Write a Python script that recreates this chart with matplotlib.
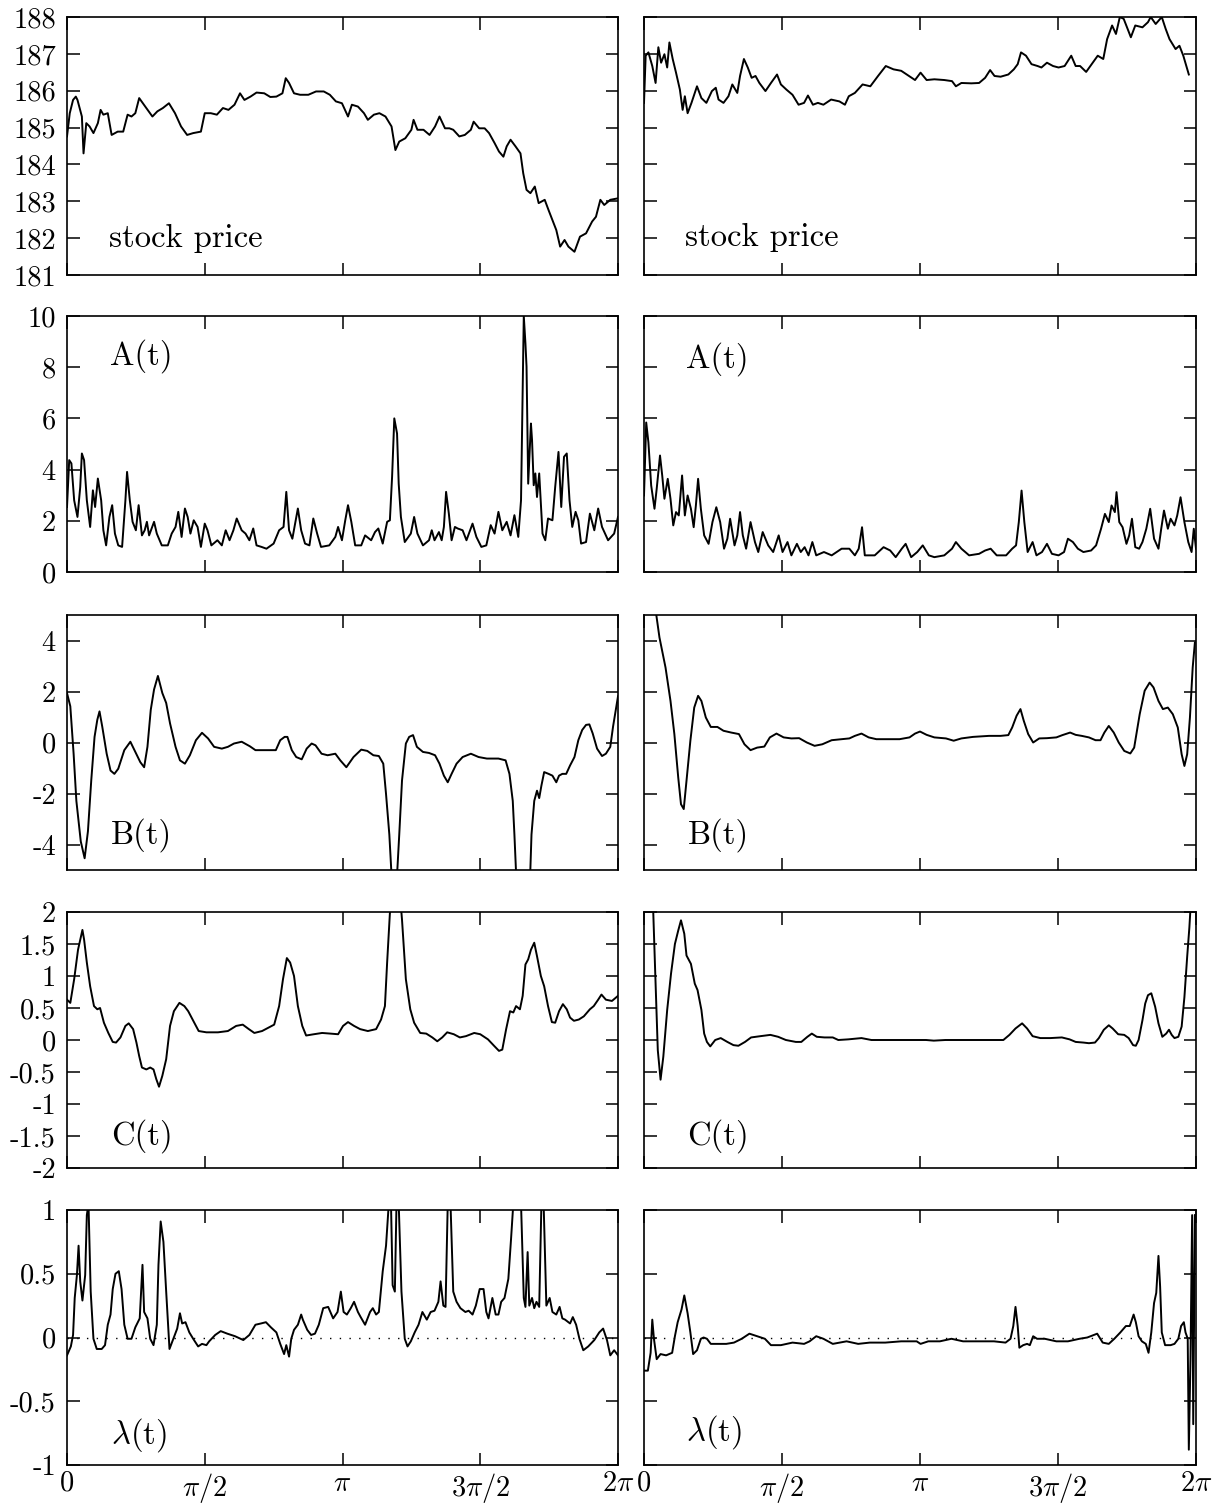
import numpy as np
import matplotlib
matplotlib.use("Agg")
import matplotlib.pyplot as plt

plt.rcParams['font.family'] = 'serif'
plt.rcParams['font.serif'] = ['cmr10']
plt.rcParams['mathtext.fontset'] = 'cm'
plt.rcParams['axes.unicode_minus'] = False
plt.rcParams['axes.formatter.use_mathtext'] = True

# time axis is given as fraction of the full period 2*pi

# ---- stock price, left
t_price_l = [0.000, 0.005, 0.011, 0.016, 0.019, 0.027, 0.030, 0.035, 0.041, 0.048, 0.056, 0.061, 0.066,
             0.074, 0.081, 0.092, 0.102, 0.110, 0.117, 0.124, 0.131, 0.142, 0.155, 0.164, 0.174, 0.185,
             0.196, 0.207, 0.218, 0.229, 0.243, 0.250, 0.261, 0.272, 0.283, 0.293, 0.304, 0.314, 0.322,
             0.333, 0.344, 0.358, 0.369, 0.380, 0.391, 0.397, 0.403, 0.412, 0.423, 0.438, 0.452, 0.466,
             0.477, 0.488, 0.499, 0.510, 0.517, 0.528, 0.539, 0.546, 0.557, 0.567, 0.578, 0.589, 0.596,
             0.603, 0.614, 0.625, 0.629, 0.636, 0.647, 0.658, 0.668, 0.676, 0.686, 0.694, 0.701, 0.712,
             0.722, 0.733, 0.738, 0.748, 0.758, 0.766, 0.776, 0.784, 0.792, 0.798, 0.805, 0.814, 0.823,
             0.828, 0.834, 0.841, 0.849, 0.856, 0.867, 0.874, 0.881, 0.888, 0.895, 0.903, 0.910, 0.921,
             0.931, 0.942, 0.953, 0.960, 0.968, 0.975, 0.986, 1.000]
price_l = [184.76, 185.39, 185.75, 185.84, 185.75, 185.30, 184.30, 185.12, 185.03, 184.85, 185.12, 185.48,
           185.35, 185.39, 184.80, 184.89, 184.89, 185.35, 185.30, 185.39, 185.80, 185.57, 185.30, 185.44,
           185.53, 185.66, 185.39, 185.03, 184.80, 184.85, 184.89, 185.39, 185.39, 185.35, 185.53, 185.48,
           185.62, 185.93, 185.75, 185.84, 185.95, 185.93, 185.83, 185.84, 185.93, 186.34, 186.21, 185.93,
           185.89, 185.89, 185.98, 185.98, 185.89, 185.71, 185.66, 185.30, 185.62, 185.57, 185.39, 185.21,
           185.35, 185.39, 185.30, 185.03, 184.39, 184.62, 184.71, 184.94, 185.21, 184.94, 184.94, 184.80,
           185.03, 185.30, 184.98, 184.98, 184.94, 184.76, 184.80, 184.94, 185.16, 184.98, 184.98, 184.85,
           184.58, 184.35, 184.21, 184.49, 184.67, 184.49, 184.30, 183.76, 183.31, 183.22, 183.40, 182.95,
           183.04, 182.76, 182.49, 182.22, 181.77, 181.95, 181.77, 181.63, 182.04, 182.13, 182.45, 182.58,
           183.04, 182.90, 183.04, 183.08]

# ---- stock price, right
t_price_r = [0.000, 0.003, 0.008, 0.015, 0.021, 0.026, 0.031, 0.037, 0.042, 0.046, 0.052, 0.058, 0.065,
             0.070, 0.074, 0.079, 0.086, 0.096, 0.104, 0.113, 0.123, 0.130, 0.135, 0.144, 0.153, 0.160,
             0.169, 0.174, 0.181, 0.188, 0.195, 0.202, 0.209, 0.220, 0.230, 0.241, 0.248, 0.258, 0.269,
             0.280, 0.290, 0.297, 0.306, 0.315, 0.325, 0.339, 0.354, 0.364, 0.371, 0.382, 0.396, 0.410,
             0.424, 0.438, 0.452, 0.466, 0.480, 0.491, 0.501, 0.512, 0.526, 0.544, 0.558, 0.565, 0.575,
             0.593, 0.607, 0.618, 0.627, 0.635, 0.646, 0.660, 0.670, 0.677, 0.683, 0.692, 0.702, 0.713,
             0.720, 0.730, 0.741, 0.751, 0.762, 0.774, 0.782, 0.790, 0.801, 0.811, 0.822, 0.832, 0.839,
             0.848, 0.855, 0.862, 0.869, 0.875, 0.882, 0.890, 0.903, 0.913, 0.918, 0.927, 0.938, 0.945,
             0.952, 0.963, 0.970, 0.977, 0.987]
price_r = [185.67, 186.95, 187.04, 186.67, 186.21, 187.18, 186.76, 186.99, 186.63, 187.31, 186.86, 186.49,
           186.03, 185.48, 185.85, 185.39, 185.67, 186.12, 185.80, 185.67, 185.99, 186.08, 185.76, 185.67,
           185.85, 186.17, 185.94, 186.40, 186.86, 186.63, 186.35, 186.40, 186.21, 185.99, 186.21, 186.44,
           186.17, 186.03, 185.89, 185.62, 185.67, 185.87, 185.62, 185.67, 185.62, 185.76, 185.71, 185.62,
           185.85, 185.94, 186.17, 186.12, 186.40, 186.67, 186.58, 186.54, 186.40, 186.29, 186.49, 186.29,
           186.31, 186.29, 186.26, 186.12, 186.21, 186.20, 186.21, 186.35, 186.56, 186.40, 186.38, 186.44,
           186.58, 186.72, 187.04, 186.95, 186.72, 186.67, 186.63, 186.76, 186.67, 186.63, 186.67, 186.95,
           186.67, 186.67, 186.51, 186.72, 186.95, 186.86, 187.40, 187.77, 187.54, 188.00, 187.95, 187.72,
           187.45, 187.77, 187.72, 187.86, 188.00, 187.81, 188.00, 187.68, 187.40, 187.13, 187.22, 186.95,
           186.44]

# ---- A(t), left
t_a_l = [0.000, 0.004, 0.008, 0.013, 0.019, 0.024, 0.027, 0.031, 0.036, 0.042, 0.047, 0.051, 0.056, 0.062,
         0.066, 0.071, 0.077, 0.082, 0.087, 0.093, 0.100, 0.106, 0.109, 0.114, 0.119, 0.125, 0.130, 0.136,
         0.141, 0.145, 0.149, 0.158, 0.163, 0.172, 0.183, 0.190, 0.197, 0.202, 0.208, 0.214, 0.219, 0.224,
         0.230, 0.237, 0.243, 0.250, 0.255, 0.262, 0.273, 0.281, 0.288, 0.295, 0.302, 0.308, 0.317, 0.324,
         0.331, 0.338, 0.344, 0.353, 0.362, 0.375, 0.385, 0.393, 0.398, 0.403, 0.409, 0.414, 0.419, 0.425,
         0.432, 0.440, 0.447, 0.454, 0.461, 0.476, 0.487, 0.492, 0.499, 0.505, 0.510, 0.516, 0.523, 0.534,
         0.541, 0.552, 0.559, 0.565, 0.573, 0.581, 0.586, 0.590, 0.594, 0.599, 0.602, 0.606, 0.613, 0.624,
         0.630, 0.636, 0.646, 0.657, 0.662, 0.667, 0.675, 0.680, 0.684, 0.688, 0.693, 0.698, 0.704, 0.709,
         0.718, 0.725, 0.736, 0.743, 0.752, 0.761, 0.769, 0.776, 0.783, 0.790, 0.798, 0.805, 0.812, 0.819,
         0.824, 0.829, 0.832, 0.834, 0.837, 0.842, 0.844, 0.847, 0.850, 0.853, 0.857, 0.863, 0.868, 0.873,
         0.881, 0.886, 0.892, 0.897, 0.902, 0.907, 0.912, 0.917, 0.923, 0.928, 0.933, 0.942, 0.949, 0.957,
         0.964, 0.971, 0.982, 0.993, 1.000]
a_l = [2.54, 4.37, 4.24, 2.80, 2.15, 3.32, 4.63, 4.37, 2.80, 1.76, 3.19, 2.54, 3.65, 2.80, 1.63, 1.04,
       2.15, 2.61, 1.50, 1.04, 0.98, 2.80, 3.91, 2.80, 1.96, 1.63, 2.61, 1.43, 1.63, 1.96, 1.43, 1.96,
       1.50, 1.04, 1.04, 1.50, 1.76, 2.35, 1.37, 2.48, 2.15, 1.50, 2.02, 1.76, 0.98, 1.89, 1.63, 1.04,
       1.24, 1.04, 1.63, 1.24, 1.63, 2.09, 1.63, 1.50, 1.24, 1.70, 1.04, 0.98, 0.91, 1.11, 1.63, 1.76,
       3.13, 1.63, 1.30, 1.89, 2.48, 1.63, 1.11, 1.04, 2.09, 1.50, 0.98, 1.04, 1.37, 1.76, 1.24, 2.02,
       2.61, 1.96, 1.04, 1.04, 1.43, 1.24, 1.56, 1.70, 1.11, 1.96, 2.02, 3.72, 6.00, 5.41, 3.45, 2.15,
       1.17, 1.50, 2.15, 1.50, 1.04, 1.24, 1.63, 1.24, 1.56, 1.24, 1.76, 3.13, 2.28, 1.24, 1.76, 1.70,
       1.63, 1.24, 1.89, 1.37, 0.98, 1.04, 1.83, 1.50, 2.35, 1.63, 1.96, 1.43, 2.22, 1.37, 2.80, 10.0,
       8.93, 8.02, 3.45, 5.80, 5.15, 3.39, 3.85, 2.93, 3.85, 1.50, 1.24, 2.09, 2.02, 3.32, 4.69, 2.54,
       4.50, 4.63, 2.80, 1.76, 2.35, 2.02, 1.11, 1.17, 2.28, 1.63, 2.48, 1.76, 1.24, 1.50, 2.15]

# ---- A(t), right
t_a_r = [0.000, 0.004, 0.008, 0.013, 0.019, 0.023, 0.029, 0.033, 0.037, 0.043, 0.048, 0.053, 0.058, 0.063,
         0.069, 0.074, 0.079, 0.085, 0.090, 0.094, 0.098, 0.103, 0.109, 0.117, 0.124, 0.131, 0.138, 0.145,
         0.151, 0.156, 0.164, 0.169, 0.174, 0.179, 0.185, 0.193, 0.201, 0.207, 0.215, 0.225, 0.234, 0.244,
         0.251, 0.260, 0.267, 0.277, 0.284, 0.291, 0.298, 0.305, 0.312, 0.326, 0.340, 0.358, 0.372, 0.382,
         0.389, 0.395, 0.400, 0.418, 0.434, 0.446, 0.456, 0.467, 0.474, 0.484, 0.495, 0.505, 0.516, 0.526,
         0.544, 0.558, 0.565, 0.575, 0.589, 0.607, 0.618, 0.628, 0.639, 0.656, 0.667, 0.674, 0.679, 0.684,
         0.689, 0.695, 0.704, 0.711, 0.721, 0.730, 0.739, 0.751, 0.761, 0.768, 0.777, 0.786, 0.796, 0.810,
         0.819, 0.828, 0.835, 0.842, 0.847, 0.853, 0.856, 0.861, 0.867, 0.874, 0.879, 0.884, 0.890, 0.897,
         0.903, 0.910, 0.917, 0.924, 0.932, 0.937, 0.942, 0.949, 0.954, 0.961, 0.966, 0.972, 0.979, 0.986,
         0.992, 0.996, 1.000]
a_r = [2.99, 5.84, 5.06, 3.38, 2.47, 3.25, 4.55, 3.77, 2.86, 3.64, 2.86, 1.82, 2.34, 2.21, 3.77, 2.21,
       2.99, 2.47, 1.75, 2.60, 3.64, 2.47, 1.43, 1.10, 1.95, 2.53, 1.95, 0.91, 1.30, 2.08, 1.04, 1.43,
       2.34, 1.43, 0.91, 1.95, 1.17, 0.78, 1.56, 1.04, 0.78, 1.43, 0.78, 1.17, 0.65, 1.10, 0.78, 0.97,
       0.65, 1.17, 0.65, 0.78, 0.65, 0.91, 0.91, 0.65, 0.91, 1.75, 0.65, 0.65, 0.97, 0.84, 0.58, 0.91,
       1.10, 0.58, 0.78, 1.04, 0.65, 0.58, 0.65, 0.91, 1.17, 0.91, 0.65, 0.71, 0.84, 0.91, 0.65, 0.65,
       0.91, 1.04, 1.95, 3.18, 1.95, 0.78, 1.17, 0.65, 0.78, 1.10, 0.71, 0.65, 0.78, 1.30, 1.17, 0.91,
       0.78, 0.84, 1.04, 1.69, 2.27, 1.95, 2.60, 2.34, 3.12, 1.95, 1.75, 1.10, 1.43, 2.08, 0.97, 0.91,
       1.17, 1.69, 2.47, 1.30, 0.91, 1.69, 2.40, 1.69, 2.08, 1.82, 2.21, 2.92, 1.95, 1.17, 0.78, 1.69,
       0.91]

# ---- B(t), left
t_b_l = [0.000, 0.006, 0.012, 0.017, 0.025, 0.032, 0.038, 0.044, 0.050, 0.055, 0.059, 0.064, 0.072, 0.079,
         0.086, 0.093, 0.104, 0.115, 0.124, 0.133, 0.140, 0.146, 0.152, 0.158, 0.165, 0.173, 0.180, 0.187,
         0.197, 0.205, 0.214, 0.223, 0.234, 0.245, 0.256, 0.267, 0.281, 0.292, 0.303, 0.317, 0.332, 0.342,
         0.357, 0.379, 0.387, 0.395, 0.400, 0.408, 0.416, 0.426, 0.435, 0.444, 0.451, 0.462, 0.473, 0.487,
         0.496, 0.507, 0.520, 0.534, 0.545, 0.556, 0.566, 0.574, 0.579, 0.585, 0.590, 0.598, 0.603, 0.608,
         0.615, 0.621, 0.628, 0.635, 0.646, 0.657, 0.668, 0.676, 0.684, 0.691, 0.698, 0.707, 0.718, 0.733,
         0.747, 0.762, 0.783, 0.796, 0.803, 0.809, 0.812, 0.816, 0.840, 0.843, 0.848, 0.853, 0.857, 0.861,
         0.866, 0.874, 0.881, 0.888, 0.893, 0.899, 0.906, 0.913, 0.921, 0.928, 0.935, 0.942, 0.948, 0.954,
         0.962, 0.971, 0.978, 0.986, 0.991, 1.000]
b_l = [1.94, 1.42, -0.44, -2.29, -3.88, -4.54, -3.48, -1.49, 0.22, 0.89, 1.22, 0.62, -0.44, -1.10, -1.23,
       -1.03, -0.30, 0.03, -0.37, -0.77, -0.97, -0.17, 1.28, 2.08, 2.61, 1.94, 1.55, 0.75, -0.17, -0.70,
       -0.83, -0.50, 0.09, 0.38, 0.16, -0.17, -0.24, -0.17, -0.04, 0.03, -0.15, -0.30, -0.30, -0.30, 0.09,
       0.22, 0.22, -0.30, -0.57, -0.66, -0.24, -0.04, -0.11, -0.44, -0.50, -0.44, -0.70, -0.97, -0.57,
       -0.28, -0.33, -0.50, -0.53, -0.83, -2.02, -3.61, -5.60, -5.60, -3.61, -1.49, -0.04, 0.22, 0.29,
       -0.17, -0.37, -0.41, -0.50, -0.83, -1.30, -1.56, -1.23, -0.83, -0.57, -0.44, -0.57, -0.63, -0.63,
       -0.70, -1.23, -2.29, -3.61, -5.60, -5.60, -3.61, -2.29, -1.89, -2.18, -1.69, -1.16, -1.23, -1.30,
       -1.56, -1.30, -1.23, -1.23, -0.90, -0.57, 0.09, 0.49, 0.69, 0.71, 0.36, -0.24, -0.53, -0.44, -0.17,
       0.62, 1.81]

# ---- B(t), right
t_b_r = [0.000, 0.021, 0.028, 0.039, 0.048, 0.055, 0.062, 0.067, 0.072, 0.077, 0.084, 0.091, 0.098, 0.104,
         0.112, 0.121, 0.133, 0.144, 0.158, 0.172, 0.182, 0.193, 0.205, 0.218, 0.228, 0.240, 0.253, 0.267,
         0.281, 0.295, 0.309, 0.323, 0.340, 0.358, 0.372, 0.382, 0.394, 0.407, 0.421, 0.442, 0.463, 0.481,
         0.491, 0.500, 0.512, 0.526, 0.547, 0.561, 0.575, 0.596, 0.625, 0.646, 0.660, 0.667, 0.675, 0.682,
         0.688, 0.696, 0.705, 0.716, 0.730, 0.747, 0.758, 0.772, 0.782, 0.793, 0.806, 0.818, 0.827, 0.834,
         0.842, 0.851, 0.860, 0.870, 0.881, 0.888, 0.898, 0.907, 0.916, 0.923, 0.932, 0.940, 0.949, 0.958,
         0.967, 0.974, 0.979, 0.984, 0.989, 0.994, 0.998]
b_r = [7.00, 5.20, 4.12, 2.94, 1.63, 0.33, -1.37, -2.42, -2.61, -1.50, 0.07, 1.37, 1.83, 1.63, 0.98, 0.61,
       0.61, 0.46, 0.39, 0.33, -0.07, -0.30, -0.20, -0.16, 0.20, 0.35, 0.20, 0.16, 0.17, 0.00, -0.13, -0.07,
       0.09, 0.13, 0.16, 0.26, 0.35, 0.20, 0.13, 0.13, 0.13, 0.20, 0.35, 0.43, 0.30, 0.20, 0.16, 0.07, 0.16,
       0.22, 0.26, 0.26, 0.29, 0.59, 1.05, 1.31, 0.85, 0.33, 0.00, 0.16, 0.17, 0.20, 0.29, 0.39, 0.30, 0.26,
       0.20, 0.09, 0.09, 0.39, 0.65, 0.39, 0.00, -0.33, -0.43, -0.20, 1.11, 2.03, 2.35, 2.16, 1.63, 1.31,
       1.37, 1.11, 0.59, -0.46, -0.92, -0.46, 0.98, 2.94, 3.92]

# ---- C(t), left
t_c_l = [0.000, 0.006, 0.013, 0.020, 0.028, 0.031, 0.036, 0.042, 0.049, 0.055, 0.060, 0.067, 0.075, 0.083,
         0.089, 0.097, 0.106, 0.112, 0.120, 0.126, 0.131, 0.136, 0.144, 0.151, 0.157, 0.162, 0.167, 0.173,
         0.180, 0.187, 0.194, 0.204, 0.213, 0.220, 0.231, 0.239, 0.253, 0.274, 0.292, 0.307, 0.319, 0.330,
         0.340, 0.354, 0.365, 0.376, 0.385, 0.392, 0.399, 0.405, 0.412, 0.419, 0.427, 0.434, 0.448, 0.463,
         0.478, 0.492, 0.501, 0.510, 0.521, 0.532, 0.546, 0.561, 0.570, 0.577, 0.581, 0.586, 0.590, 0.604,
         0.608, 0.615, 0.623, 0.630, 0.641, 0.652, 0.663, 0.672, 0.681, 0.690, 0.702, 0.713, 0.724, 0.739,
         0.750, 0.764, 0.775, 0.784, 0.790, 0.797, 0.804, 0.810, 0.815, 0.822, 0.827, 0.832, 0.837, 0.842,
         0.848, 0.853, 0.860, 0.866, 0.873, 0.880, 0.886, 0.893, 0.900, 0.907, 0.913, 0.920, 0.929, 0.938,
         0.949, 0.956, 0.964, 0.970, 0.978, 0.989, 1.000]
c_l = [0.63, 0.58, 0.95, 1.41, 1.72, 1.57, 1.21, 0.84, 0.53, 0.48, 0.50, 0.27, 0.11, -0.03, -0.04, 0.04,
       0.22, 0.26, 0.17, -0.04, -0.25, -0.43, -0.46, -0.43, -0.46, -0.61, -0.73, -0.56, -0.30, 0.22, 0.45,
       0.58, 0.53, 0.45, 0.27, 0.14, 0.12, 0.12, 0.14, 0.22, 0.24, 0.17, 0.11, 0.14, 0.19, 0.24, 0.53, 0.95,
       1.28, 1.21, 1.00, 0.53, 0.22, 0.07, 0.09, 0.11, 0.10, 0.09, 0.22, 0.28, 0.22, 0.17, 0.14, 0.17, 0.32,
       0.53, 1.21, 1.98, 2.30, 2.30, 1.88, 0.95, 0.48, 0.27, 0.11, 0.10, 0.04, -0.02, 0.04, 0.12, 0.09, 0.04,
       0.06, 0.11, 0.09, 0.01, -0.09, -0.17, -0.15, 0.17, 0.45, 0.43, 0.53, 0.48, 0.69, 1.18, 1.26, 1.41,
       1.52, 1.31, 1.00, 0.84, 0.53, 0.28, 0.27, 0.45, 0.56, 0.48, 0.35, 0.30, 0.32, 0.37, 0.48, 0.53, 0.63,
       0.71, 0.63, 0.61, 0.69]

# ---- C(t), right
t_c_r = [0.016, 0.020, 0.025, 0.030, 0.035, 0.042, 0.049, 0.056, 0.062, 0.067, 0.073, 0.077, 0.085, 0.092,
         0.097, 0.104, 0.109, 0.114, 0.120, 0.129, 0.139, 0.151, 0.162, 0.171, 0.183, 0.194, 0.211, 0.229,
         0.243, 0.257, 0.275, 0.285, 0.296, 0.304, 0.313, 0.327, 0.342, 0.352, 0.370, 0.394, 0.412, 0.440,
         0.475, 0.511, 0.525, 0.546, 0.581, 0.616, 0.651, 0.662, 0.673, 0.685, 0.694, 0.704, 0.718, 0.736,
         0.757, 0.771, 0.782, 0.796, 0.806, 0.817, 0.824, 0.833, 0.842, 0.849, 0.859, 0.870, 0.878, 0.886,
         0.891, 0.896, 0.903, 0.908, 0.913, 0.919, 0.926, 0.932, 0.939, 0.946, 0.951, 0.956, 0.961, 0.968,
         0.974, 0.979, 0.984, 0.988, 0.991]
c_r = [2.20, 1.14, -0.16, -0.62, -0.26, 0.47, 1.04, 1.50, 1.71, 1.87, 1.66, 1.32, 1.19, 0.88, 0.78, 0.47,
       0.10, -0.03, -0.10, 0.00, 0.03, -0.03, -0.08, -0.09, -0.03, 0.04, 0.06, 0.08, 0.05, 0.00, -0.03, -0.03,
       0.05, 0.10, 0.05, 0.04, 0.04, 0.00, 0.01, 0.03, 0.00, 0.00, 0.00, 0.00, -0.01, 0.00, 0.00, 0.00, 0.00,
       0.08, 0.18, 0.26, 0.18, 0.06, 0.03, 0.03, 0.04, 0.01, -0.03, -0.04, -0.05, -0.04, 0.03, 0.16, 0.23,
       0.18, 0.09, 0.08, 0.03, -0.08, -0.09, 0.00, 0.31, 0.57, 0.70, 0.73, 0.52, 0.26, 0.05, 0.10, 0.16, 0.08,
       0.03, 0.05, 0.21, 0.67, 1.30, 1.76, 2.20]

# ---- lambda(t), left
t_lam_l = [0.000, 0.007, 0.011, 0.014, 0.018, 0.021, 0.024, 0.028, 0.033, 0.036, 0.039, 0.043, 0.048, 0.054,
           0.063, 0.069, 0.074, 0.079, 0.083, 0.088, 0.094, 0.099, 0.104, 0.110, 0.117, 0.124, 0.132, 0.137,
           0.140, 0.146, 0.151, 0.157, 0.163, 0.166, 0.170, 0.175, 0.180, 0.186, 0.193, 0.200, 0.205, 0.209,
           0.215, 0.222, 0.229, 0.238, 0.245, 0.253, 0.258, 0.269, 0.279, 0.291, 0.305, 0.320, 0.331, 0.342,
           0.352, 0.361, 0.370, 0.380, 0.387, 0.394, 0.398, 0.403, 0.407, 0.412, 0.419, 0.425, 0.428, 0.436,
           0.443, 0.450, 0.457, 0.465, 0.474, 0.483, 0.491, 0.497, 0.502, 0.508, 0.515, 0.521, 0.528, 0.533,
           0.541, 0.550, 0.555, 0.561, 0.566, 0.573, 0.579, 0.584, 0.588, 0.591, 0.595, 0.598, 0.602, 0.607,
           0.613, 0.618, 0.624, 0.631, 0.638, 0.645, 0.653, 0.660, 0.667, 0.674, 0.678, 0.683, 0.687, 0.691,
           0.696, 0.701, 0.707, 0.714, 0.723, 0.729, 0.736, 0.742, 0.749, 0.756, 0.761, 0.765, 0.772, 0.778,
           0.783, 0.788, 0.794, 0.801, 0.806, 0.810, 0.815, 0.824, 0.829, 0.832, 0.836, 0.839, 0.844, 0.848,
           0.852, 0.857, 0.861, 0.865, 0.870, 0.876, 0.881, 0.888, 0.894, 0.899, 0.904, 0.913, 0.918, 0.924,
           0.930, 0.937, 0.946, 0.957, 0.966, 0.973, 0.980, 0.986, 0.993, 1.000]
lam_l = [-0.14, -0.07, 0.02, 0.31, 0.49, 0.72, 0.44, 0.29, 0.49, 0.96, 1.05, 0.36, -0.01, -0.09, -0.09,
         -0.06, 0.10, 0.18, 0.38, 0.50, 0.52, 0.38, 0.10, -0.01, -0.01, 0.08, 0.15, 0.57, 0.20, 0.15, -0.01,
         -0.06, 0.10, 0.57, 0.91, 0.75, 0.36, -0.09, -0.01, 0.07, 0.19, 0.11, 0.12, 0.04, -0.01, -0.07, -0.05,
         -0.06, -0.03, 0.02, 0.05, 0.03, 0.01, -0.02, 0.02, 0.10, 0.11, 0.12, 0.08, 0.04, -0.05, -0.13, -0.06,
         -0.15, -0.01, 0.06, 0.10, 0.18, 0.14, 0.06, 0.02, 0.03, 0.10, 0.23, 0.24, 0.15, 0.20, 0.36, 0.20,
         0.18, 0.23, 0.28, 0.20, 0.16, 0.10, 0.20, 0.23, 0.18, 0.20, 0.52, 0.72, 1.05, 1.05, 0.41, 0.36, 1.05,
         1.05, 0.36, -0.01, -0.07, -0.03, 0.04, 0.10, 0.20, 0.14, 0.20, 0.21, 0.28, 0.44, 0.25, 0.24, 1.05,
         1.05, 0.36, 0.28, 0.23, 0.20, 0.21, 0.18, 0.25, 0.38, 0.38, 0.20, 0.15, 0.31, 0.18, 0.18, 0.28, 0.31,
         0.46, 0.78, 1.05, 1.05, 1.05, 0.31, 0.24, 0.67, 0.25, 0.31, 0.23, 0.28, 0.24, 1.05, 1.05, 0.25, 0.31,
         0.20, 0.18, 0.24, 0.15, 0.14, 0.11, 0.16, 0.10, -0.01, -0.10, -0.07, -0.02, 0.04, 0.07, -0.02, -0.14,
         -0.10, -0.14]

# ---- lambda(t), right
t_lam_r = [0.000, 0.007, 0.012, 0.015, 0.018, 0.023, 0.030, 0.040, 0.051, 0.056, 0.061, 0.068, 0.073, 0.079,
           0.084, 0.089, 0.096, 0.103, 0.108, 0.114, 0.121, 0.135, 0.149, 0.163, 0.177, 0.191, 0.205, 0.219,
           0.230, 0.248, 0.269, 0.290, 0.300, 0.312, 0.325, 0.342, 0.367, 0.388, 0.409, 0.437, 0.466, 0.494,
           0.501, 0.515, 0.536, 0.557, 0.578, 0.606, 0.634, 0.655, 0.664, 0.669, 0.673, 0.677, 0.680, 0.687,
           0.694, 0.699, 0.705, 0.712, 0.726, 0.747, 0.768, 0.789, 0.803, 0.821, 0.831, 0.842, 0.852, 0.863,
           0.873, 0.880, 0.887, 0.891, 0.896, 0.902, 0.909, 0.914, 0.919, 0.924, 0.928, 0.932, 0.935, 0.938,
           0.944, 0.954, 0.961, 0.968, 0.973, 0.978, 0.981, 0.985, 0.987, 0.990, 0.993, 0.995, 0.998]
lam_r = [-0.26, -0.26, -0.12, 0.14, -0.01, -0.17, -0.13, -0.14, -0.12, 0.01, 0.12, 0.22, 0.33, 0.19, 0.04,
         -0.13, -0.10, -0.01, 0.00, -0.01, -0.05, -0.05, -0.05, -0.04, -0.01, 0.03, 0.01, -0.01, -0.06, -0.06,
         -0.04, -0.05, -0.03, 0.01, -0.01, -0.05, -0.03, -0.05, -0.04, -0.04, -0.03, -0.03, -0.05, -0.03,
         -0.03, -0.01, -0.03, -0.03, -0.03, -0.04, -0.01, 0.09, 0.24, 0.09, -0.08, -0.06, -0.05, -0.06, 0.01,
         -0.01, -0.01, -0.03, -0.03, -0.01, 0.00, 0.03, -0.04, -0.05, -0.01, 0.04, 0.09, 0.09, 0.18, 0.12,
         0.01, -0.03, -0.05, -0.12, 0.04, 0.27, 0.35, 0.64, 0.40, 0.04, -0.06, -0.06, -0.05, -0.01, 0.09, 0.12,
         0.04, -0.01, -0.88, -0.17, 0.96, -0.68, 0.96]

x_ticks = [0, np.pi / 2, np.pi, 3 * np.pi / 2, 2 * np.pi]
x_labels = ['0', r'$\pi/2$', r'$\pi$', r'$3\pi/2$', r'$2\pi$']

rows = [
    dict(left=(t_price_l, price_l), right=(t_price_r, price_r), ylim=(181, 188),
         yticks=[181, 182, 183, 184, 185, 186, 187, 188], label='stock price',
         pos_l=(0.076, 0.109), pos_r=(0.075, 0.111)),
    dict(left=(t_a_l, a_l), right=(t_a_r, a_r), ylim=(0, 10),
         yticks=[0, 2, 4, 6, 8, 10], label='A(t)',
         pos_l=(0.078, 0.812), pos_r=(0.076, 0.80)),
    dict(left=(t_b_l, b_l), right=(t_b_r, b_r), ylim=(-5, 5),
         yticks=[-4, -2, 0, 2, 4], label='B(t)',
         pos_l=(0.080, 0.105), pos_r=(0.080, 0.102)),
    dict(left=(t_c_l, c_l), right=(t_c_r, c_r), ylim=(-2, 2),
         yticks=[-2, -1.5, -1, -0.5, 0, 0.5, 1, 1.5, 2], label='C(t)',
         pos_l=(0.080, 0.090), pos_r=(0.078, 0.090)),
    dict(left=(t_lam_l, lam_l), right=(t_lam_r, lam_r), ylim=(-1, 1),
         yticks=[-1, -0.5, 0, 0.5, 1], label=r'$\lambda(\mathrm{t})$',
         pos_l=(0.080, 0.085), pos_r=(0.076, 0.095)),
]

W, H = 1224, 1507
fig = plt.figure(figsize=(W / 100, H / 100), dpi=100)
row_px = [(17, 275), (316, 572), (615, 870), (912, 1168), (1210, 1465)]
col_px = [(67, 618), (644, 1196)]

for i, row in enumerate(rows):
    top, bot = row_px[i]
    for j, side in enumerate(['left', 'right']):
        x0, x1 = col_px[j]
        ax = fig.add_axes([x0 / W, 1 - bot / H, (x1 - x0) / W, (bot - top) / H])
        tf, vals = row[side]
        t = 2 * np.pi * np.array(tf)
        ax.plot(t, vals, color='black', lw=1.4)
        if i == 4:
            ax.axhline(0, color='black', lw=1.0, linestyle=(0, (1, 6)))
        ax.set_xlim(0, 2 * np.pi)
        ax.set_ylim(*row['ylim'])
        ax.set_xticks(x_ticks)
        if i == 4:
            ax.set_xticklabels(x_labels)
        else:
            ax.set_xticklabels([])
        ax.set_yticks(row['yticks'])
        if j == 0:
            ax.set_yticklabels(['%g' % v for v in row['yticks']])
        else:
            ax.set_yticklabels([])
        ax.tick_params(direction='in', top=True, right=True, length=9, width=1.1,
                       labelsize=20.5)
        ax.tick_params(axis='y', pad=8)
        ax.tick_params(axis='x', pad=4)
        for s in ax.spines.values():
            s.set_linewidth(1.2)
        px, py = row['pos_l'] if j == 0 else row['pos_r']
        ax.text(px, py, row['label'], transform=ax.transAxes, fontsize=23.5,
                va='baseline', ha='left')

fig.savefig('out.png', dpi=100)
